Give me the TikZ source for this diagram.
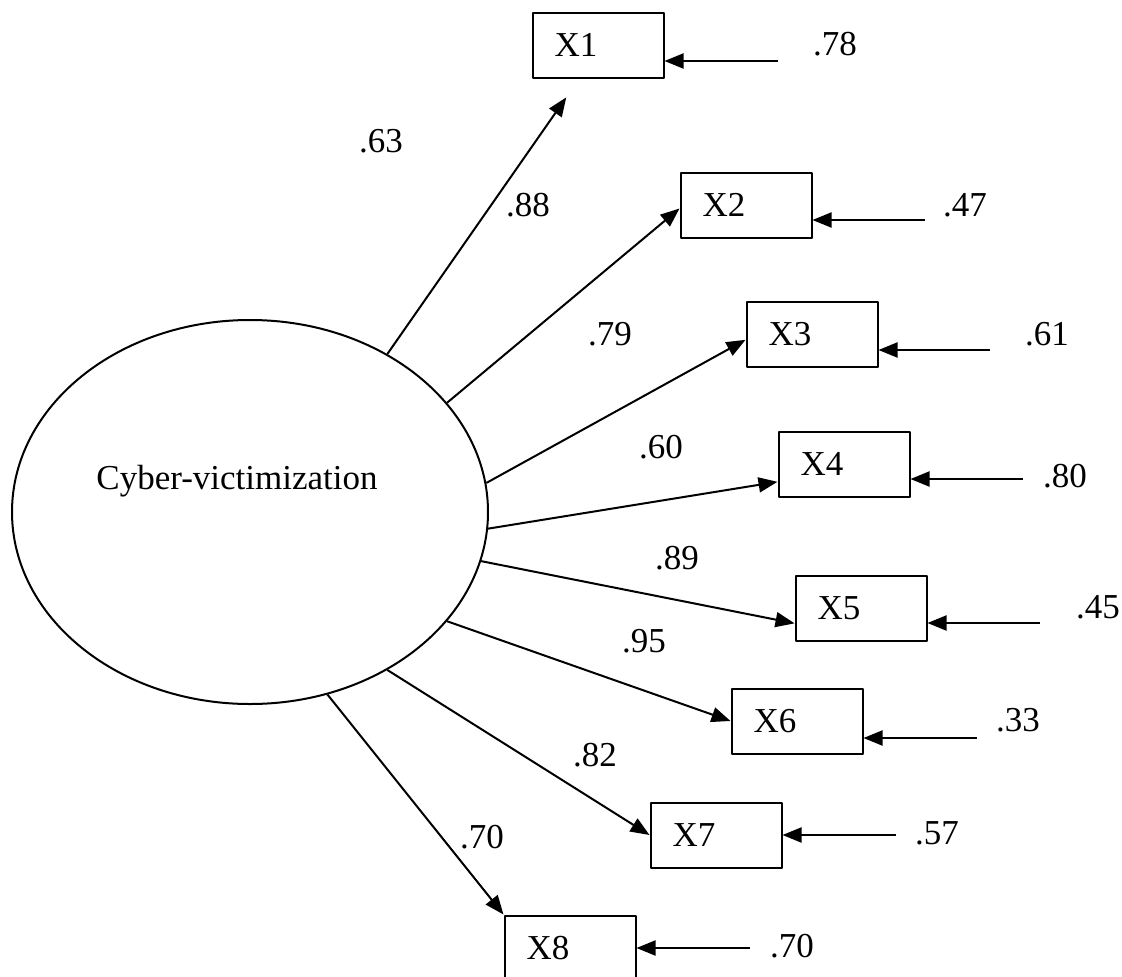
\documentclass[tikz,border=0pt]{standalone}
\usepackage{fontspec}
\setmainfont{Liberation Serif}
\usetikzlibrary{arrows.meta,shapes.geometric}
\begin{document}
\begin{tikzpicture}[x=1pt,y=-1pt,>={Triangle[length=19pt,width=15pt]},
    font=\fontsize{35}{40}\selectfont, line width=2pt, line join=round,
    latent/.style={draw,ellipse,minimum width=476pt,minimum height=384pt,inner sep=0pt},
    obs/.style={draw,rectangle,minimum width=131pt,minimum height=65pt,inner xsep=22pt,text width=87pt,align=left}]
        \useasboundingbox (0,0) rectangle (1122,977);
        % factor
        \node[latent] (cv) at (250,512) {};
        \node (cvname) at (237,481) {Cyber-victimization};
        % indicators
        \node[obs] (X1) at (598,45) {X1};
        \node[obs] (X2) at (746,205) {X2};
        \node[obs] (X3) at (812,334) {X3};
        \node[obs] (X4) at (844,464) {X4};
        \node[obs] (X5) at (861,608) {X5};
        \node[obs] (X6) at (797,721) {X6};
        \node[obs] (X7) at (716,835) {X7};
        \node[obs] (X8) at (570,948) {X8};
        % loadings
        \draw[->,shorten >=23pt] (cv.49) -- (X1.241);
        \draw[->] (cv.29) -- (X2.183);
        \draw[->] (cv.7.5) -- (X3.185);
        \draw[->] (cv.-4) -- (X4.195);
        \draw[->] (cv.-12) -- (X5.193);
        \draw[->] (cv.-29) -- (X6.180);
        \draw[->] (cv.-49) -- (X7.180);
        \draw[->] (cv.-67) -- (X8.north west);
        \path (381,141) node{.63} (528,205) node{.88} (610,334) node{.79} (661,447) node{.60}
              (677,558) node{.89} (644,641) node{.95} (595,755) node{.82} (482,837) node{.70};
        % errors
        \coordinate (e1) at (778,61);
        \coordinate (e2) at (925,220);
        \coordinate (e3) at (990,350);
        \coordinate (e4) at (1023,479);
        \coordinate (e5) at (1040,623);
        \coordinate (e6) at (977,738);
        \coordinate (e7) at (896,835);
        \coordinate (e8) at (750,948);
        \draw[->] (e1) -- (e1 -| X1.east);
        \draw[->] (e2) -- (e2 -| X2.east);
        \draw[->] (e3) -- (e3 -| X3.east);
        \draw[->] (e4) -- (e4 -| X4.east);
        \draw[->] (e5) -- (e5 -| X5.east);
        \draw[->] (e6) -- (e6 -| X6.east);
        \draw[->] (e7) -- (e7 -| X7.east);
        \draw[->] (e8) -- (e8 -| X8.east);
        \path (835,44) node{.78} (965,205) node{.47} (1047,334) node{.61} (1065,476) node{.80}
              (1098,607) node{.45} (1018,720) node{.33} (937,833) node{.57} (792,946) node{.70};
\end{tikzpicture}
\end{document}
